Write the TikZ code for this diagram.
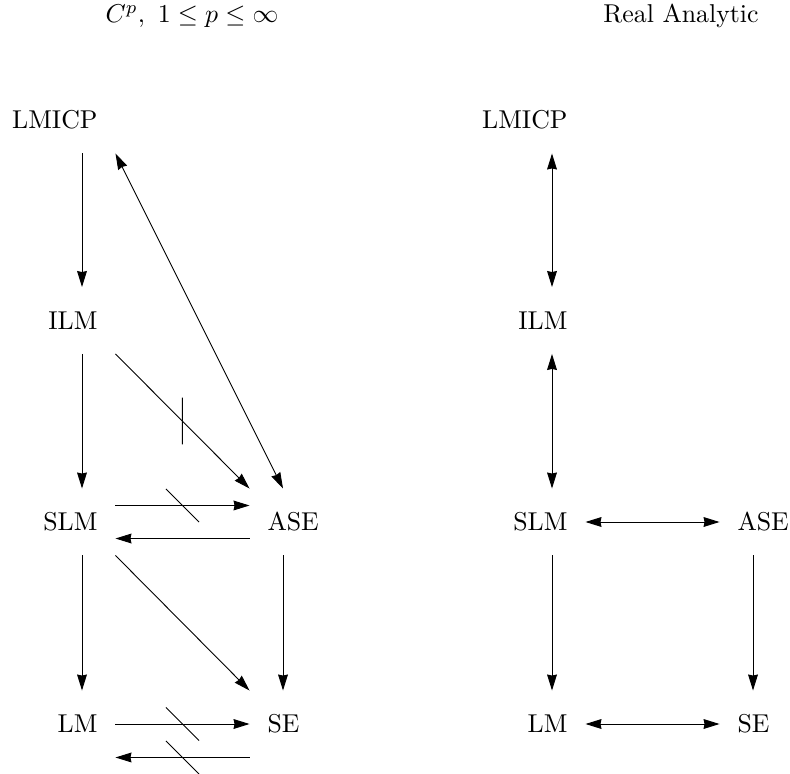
\documentclass[tikz,border=0pt]{standalone}
\usepackage{amsmath, amssymb}
\usetikzlibrary{arrows.meta, decorations.markings}

\newcommand{\lcell}[1]{\makebox[12pt][r]{#1}}
\newcommand{\rcell}[1]{\makebox[12pt][l]{#1}}

\begin{document}
\begin{tikzpicture}[x=0.3876pt, y=-0.3876pt, line width=0.35pt,
    cell/.style={inner sep=0pt, minimum size=25.6pt},
    >={Stealth[length=6.2pt, width=3.8pt, inset=0.4pt]},
    notimp/.style={postaction={decorate, decoration={markings,
        mark=at position 0.5 with {\draw[-] (-6.4pt,6.4pt) -- (6.4pt,-6.4pt);}}}}]
    \useasboundingbox (0,0) rectangle (790,774);

    % Titles
    \node[anchor=base] (cp) at (192,23) {$C^p,\ 1\leq p\leq\infty$};
    \node[anchor=base] (ra) at (681,23) {Real Analytic};

    % Draw nodes (C^p side)
    \node[cell] (lmicp) at (82,120) {\lcell{LMICP}};
    \node[cell] (ilm) at (82,320.5) {\lcell{ILM}};
    \node[cell] (slm) at (82,522) {\lcell{SLM}};
    \node[cell] (lm) at (82,724) {\lcell{LM}};
    \node[cell] (ase) at (283,522) {\rcell{ASE}};
    \node[cell] (se) at (283,724) {\rcell{SE}};

    % Draw nodes (real analytic side)
    \node[cell] (lmicpR) at (552,120) {\lcell{LMICP}};
    \node[cell] (ilmR) at (552,320.5) {\lcell{ILM}};
    \node[cell] (slmR) at (552,522) {\lcell{SLM}};
    \node[cell] (lmR) at (552,724) {\lcell{LM}};
    \node[cell] (aseR) at (753,522) {\rcell{ASE}};
    \node[cell] (seR) at (753,724) {\rcell{SE}};

    % Draw connections (C^p side)
    \draw[->] (lmicp) -- (ilm);
    \draw[<->] (lmicp.south east) -- (ase.north);
    \draw[->] (ilm) -- (slm);
    \draw[->, notimp] (ilm.south east) -- (ase.north west);
    \draw[->, notimp] ([yshift=6.4pt]slm.east) -- ([yshift=6.4pt]ase.west);
    \draw[->] ([yshift=-6.4pt]ase.west) -- ([yshift=-6.4pt]slm.east);
    \draw[->] (slm) -- (lm);
    \draw[->] (slm.south east) -- (se.north west);
    \draw[->] (ase) -- (se);
    \draw[->, notimp] (lm) -- (se);
    \draw[->, notimp] (se.south west) -- (lm.south east);

    % Draw connections (real analytic side)
    \draw[<->] (lmicpR) -- (ilmR);
    \draw[<->] (ilmR) -- (slmR);
    \draw[<->] (slmR) -- (aseR);
    \draw[->] (slmR) -- (lmR);
    \draw[->] (aseR) -- (seR);
    \draw[<->] (lmR) -- (seR);
\end{tikzpicture}
\end{document}
